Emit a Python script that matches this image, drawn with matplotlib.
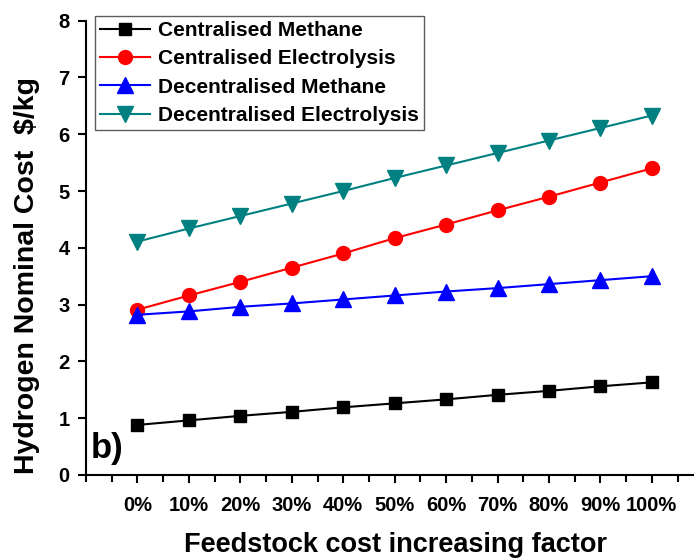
import matplotlib
matplotlib.use("Agg")
import matplotlib.pyplot as plt
from matplotlib.ticker import MultipleLocator

plt.rcParams['font.family'] = ['Liberation Sans', 'DejaVu Sans']
plt.rcParams['font.weight'] = 'bold'

# feedstock cost increase steps
factor_labels = ['0%', '10%', '20%', '30%', '40%', '50%', '60%', '70%', '80%', '90%', '100%']
x = list(range(len(factor_labels)))

# hydrogen nominal cost ($/kg)
cent_methane = [0.88, 0.96, 1.04, 1.11, 1.19, 1.26, 1.33, 1.41, 1.48, 1.56, 1.63]
cent_electrolysis = [2.91, 3.16, 3.40, 3.65, 3.90, 4.17, 4.41, 4.66, 4.90, 5.15, 5.40]
decent_methane = [2.82, 2.88, 2.96, 3.02, 3.09, 3.16, 3.23, 3.29, 3.36, 3.43, 3.50]
decent_electrolysis = [4.11, 4.34, 4.56, 4.78, 5.00, 5.23, 5.45, 5.67, 5.89, 6.11, 6.33]

fig = plt.figure(figsize=(6.94, 5.6), dpi=100)
ax = fig.add_axes([0.124, 0.152, 0.876, 0.811])

ax.plot(x, cent_methane, color='black', marker='s', markersize=9, lw=1.5, label='Centralised Methane')
ax.plot(x, cent_electrolysis, color='red', marker='o', markersize=10, lw=1.5, label='Centralised Electrolysis')
ax.plot(x, decent_methane, color='blue', marker='^', markersize=11, lw=1.5, label='Decentralised Methane')
ax.plot(x, decent_electrolysis, color='#008080', marker='v', markersize=11, lw=1.5, label='Decentralised Electrolysis')

ax.set_xlim(-1, 10.82)
ax.set_ylim(0, 8)
ax.set_xticks(x)
ax.set_xticklabels(factor_labels)
ax.xaxis.set_minor_locator(MultipleLocator(0.5))
ax.yaxis.set_major_locator(MultipleLocator(1))

ax.spines['top'].set_visible(False)
ax.spines['right'].set_visible(False)
ax.spines['left'].set_linewidth(1.5)
ax.spines['bottom'].set_linewidth(1.5)
ax.tick_params(axis='both', which='major', labelsize=14.5, width=1.5, length=6, direction='out')
ax.tick_params(axis='x', which='major', pad=9)
ax.tick_params(axis='y', which='major', pad=6)
ax.tick_params(axis='x', which='minor', width=1.5, length=5, direction='out')
for lbl in ax.get_xticklabels() + ax.get_yticklabels():
    lbl.set_fontweight('bold')

ax.set_xlabel('Feedstock cost increasing factor', fontsize=19.5, fontweight='bold', labelpad=14)
ax.xaxis.set_label_coords(0.5 + 5 / 608, -0.125)
ax.set_ylabel('Hydrogen Nominal Cost  $/kg', fontsize=20.5, fontweight='bold')
ax.yaxis.set_label_coords(-0.075, 0.44)

ax.text(0.008, 0.022, 'b)', transform=ax.transAxes, fontsize=25, fontweight='bold', va='bottom')

leg = ax.legend(loc='upper left', bbox_to_anchor=(0.014, 1.011), fontsize=15, frameon=True,
                fancybox=False, edgecolor='#333333', handlelength=2.4, borderpad=0.25,
                labelspacing=0.45, handletextpad=0.4, borderaxespad=0)
leg.get_frame().set_linewidth(1.0)
for t in leg.get_texts():
    t.set_fontweight('bold')

fig.savefig('out.png', dpi=100)
